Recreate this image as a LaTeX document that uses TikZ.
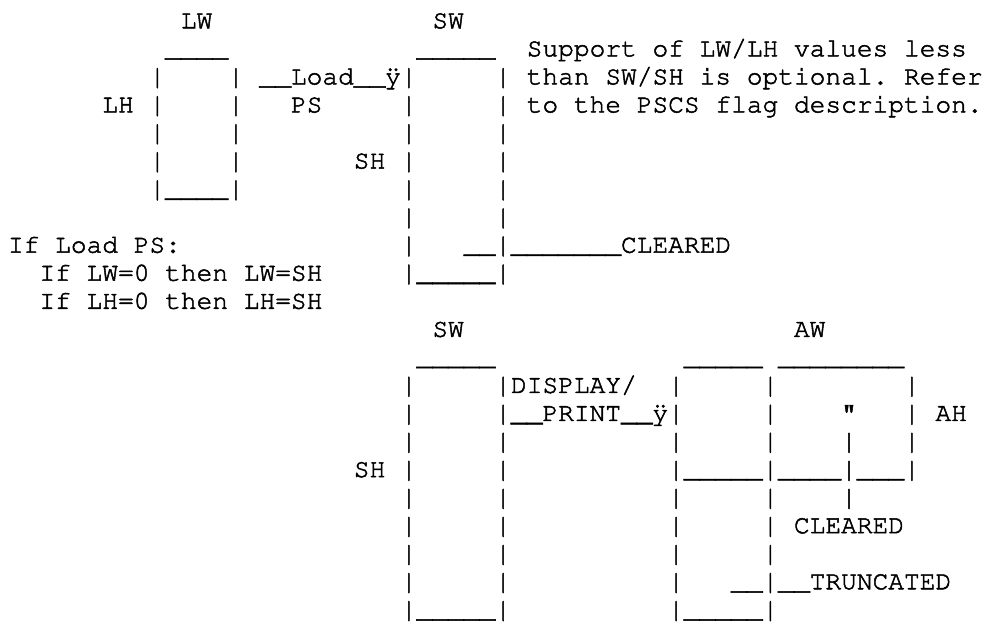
\documentclass[tikz,border=0pt]{standalone}
\usepackage[T1,TU]{fontenc}
\usepackage{graphicx}
\usepackage{tikz}

% the | of a box edge, stretched a little towards the next row
\newcommand{\vb}{\raisebox{-0.2pt}{\scalebox{1}[1.05]{|}}}

\tikzset{
  asciirow/.style={anchor=base west, inner sep=0pt, outer sep=0pt,
    font=\fontencoding{T1}\fontfamily{pcr}\fontsize{13.1pt}{14pt}\selectfont\frenchspacing
      \special{pdf:literal 2 Tr 0.25 w}}
}

\begin{document}
\begin{tikzpicture}[x=7.86pt,y=-14.025pt]
  \useasboundingbox (0pt,0pt) rectangle (491pt,-312pt);
  % one node per text row, at (column,row)
  \begin{scope}[shift={(4pt,-14.15pt)}]
    % load: LW/LH box next to SW/SH box
    \node[asciirow] (row0) at (11,0) {LW~~~~~~~~~~~~~~SW};
    \node[asciirow] (row1) at (10,1) {\_\_\_\_~~~~~~~~~~~~\_\_\_\_\_~~Support of LW/LH values less};
    \node[asciirow] (row2) at (9,2) {\vb~~~~\vb~\_\_Load\_\_\"y\vb~~~~~\vb~than SW/SH is optional. Refer};
    \node[asciirow] (row3) at (6,3) {LH~\vb~~~~\vb~~~PS~~~~~\vb~~~~~\vb~to the PSCS flag description.};
    \node[asciirow] (row4) at (9,4) {\vb~~~~\vb~~~~~~~~~~\vb~~~~~\vb};
    \node[asciirow] (row5) at (9,5) {\vb~~~~\vb~~~~~~~SH~\vb~~~~~\vb};
    \node[asciirow] (row6) at (9,6) {\vb\_\_\_\_\vb~~~~~~~~~~\vb~~~~~\vb};
    \node[asciirow] (row7) at (25,7) {\vb~~~~~\vb};
    \node[asciirow] (row8) at (0,8) {If Load PS:~~~~~~~~~~~~~~\vb~~~\_\_\vb\_\_\_\_\_\_\_CLEARED};
    \node[asciirow] (row9) at (2,9) {If LW=0 then LW=SH~~~~~\vb\_\_\_\_\_\vb};
    \node[asciirow] (row10) at (2,10) {If LH=0 then LH=SH};

    % display/print: SW/SH box next to AW/AH box
    \node[asciirow] (row11) at (27,11) {SW~~~~~~~~~~~~~~~~~~~~~AW};
    \node[asciirow] (row12) at (26,12) {\_\_\_\_\_~~~~~~~~~~~~\_\_\_\_\_~\_\_\_\_\_\_\_\_};
    \node[asciirow] (row13) at (25,13) {\vb~~~~~\vb DISPLAY/~~\vb~~~~~\vb~~~~~~~~\vb};
    \node[asciirow] (row14) at (25,14) {\vb~~~~~\vb\_\_PRINT\_\_\"y\vb~~~~~\vb~~~~"~~~\vb~AH};
    \node[asciirow] (row15) at (25,15) {\vb~~~~~\vb~~~~~~~~~~\vb~~~~~\vb~~~~\vb~~~\vb};
    \node[asciirow] (row16) at (22,16) {SH~\vb~~~~~\vb~~~~~~~~~~\vb\_\_\_\_\_\vb\_\_\_\_\vb\_\_\_\vb};
    \node[asciirow] (row17) at (25,17) {\vb~~~~~\vb~~~~~~~~~~\vb~~~~~\vb~~~~\vb};
    \node[asciirow] (row18) at (25,18) {\vb~~~~~\vb~~~~~~~~~~\vb~~~~~\vb~CLEARED};
    \node[asciirow] (row19) at (25,19) {\vb~~~~~\vb~~~~~~~~~~\vb~~~~~\vb};
    \node[asciirow] (row20) at (25,20) {\vb~~~~~\vb~~~~~~~~~~\vb~~~\_\_\vb\_\_TRUNCATED};
    \node[asciirow] (row21) at (25,21) {\vb\_\_\_\_\_\vb~~~~~~~~~~\vb\_\_\_\_\_\vb};
  \end{scope}
\end{tikzpicture}
\end{document}
